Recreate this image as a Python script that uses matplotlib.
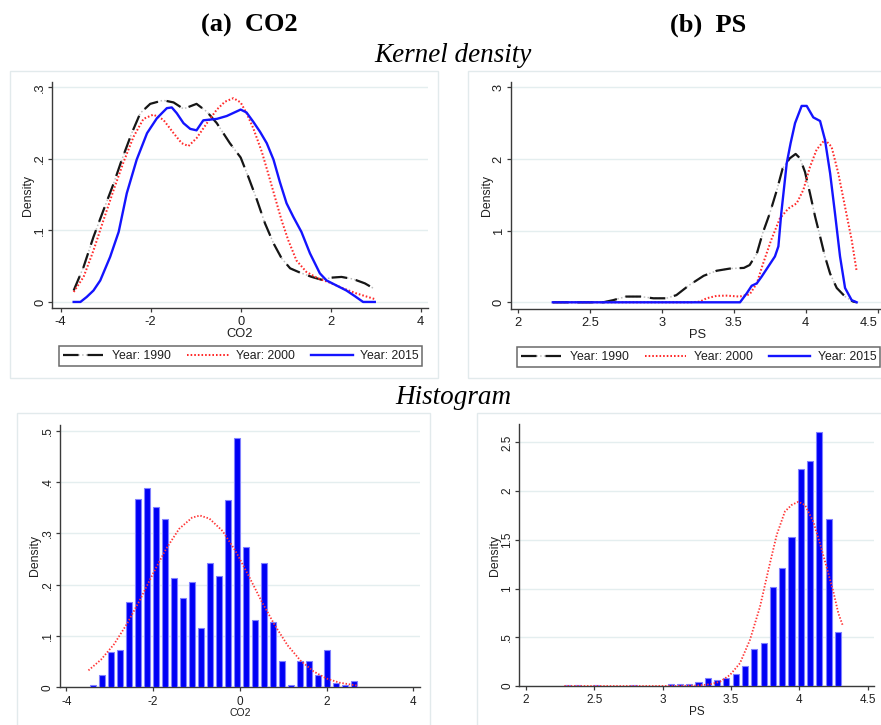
import matplotlib
matplotlib.use('Agg')
import matplotlib.pyplot as plt
from matplotlib.patches import Rectangle
from matplotlib.lines import Line2D
from matplotlib.legend_handler import HandlerTuple

# ---------------- data ----------------
years = ['Year: 1990', 'Year: 2000', 'Year: 2015']

co2_1990_x = [-3.71, -3.49, -3.27, -3.05, -2.82, -2.64, -2.42, -2.23, -2.01, -1.72, -1.49, -1.27, -0.98, -0.75,
              -0.53, -0.24, 0.0, 0.17, 0.36, 0.54, 0.73, 0.91, 1.10, 1.32, 1.58, 1.80, 2.02, 2.24, 2.50, 2.76, 2.98]
co2_1990_y = [0.016, 0.049, 0.091, 0.128, 0.166, 0.199, 0.236, 0.264, 0.277, 0.282, 0.279, 0.270, 0.277, 0.266,
              0.250, 0.222, 0.202, 0.175, 0.143, 0.110, 0.082, 0.061, 0.047, 0.041, 0.035, 0.031, 0.034, 0.035,
              0.032, 0.026, 0.018]

co2_2000_x = [-3.71, -3.49, -3.27, -3.05, -2.82, -2.60, -2.38, -2.16, -1.94, -1.72, -1.49, -1.31, -1.16, -0.98,
              -0.75, -0.53, -0.35, -0.16, 0.0, 0.13, 0.28, 0.47, 0.61, 0.76, 0.91, 1.06, 1.24, 1.46, 1.72, 1.98,
              2.28, 2.57, 2.98]
co2_2000_y = [0.014, 0.035, 0.072, 0.114, 0.157, 0.196, 0.231, 0.256, 0.262, 0.255, 0.236, 0.222, 0.218, 0.229,
              0.250, 0.269, 0.280, 0.285, 0.279, 0.264, 0.243, 0.210, 0.180, 0.147, 0.114, 0.086, 0.058, 0.042,
              0.033, 0.027, 0.019, 0.012, 0.004]

co2_2015_x = [-3.71, -3.56, -3.42, -3.27, -3.12, -2.90, -2.71, -2.53, -2.31, -2.08, -1.86, -1.64, -1.53, -1.42,
              -1.27, -1.12, -0.98, -0.83, -0.53, -0.31, 0.0, 0.13, 0.28, 0.43, 0.58, 0.73, 0.87, 1.02, 1.17,
              1.35, 1.54, 1.76, 1.91, 2.13, 2.35, 2.54, 2.72, 2.98]
co2_2015_y = [0.0, 0.0, 0.007, 0.016, 0.030, 0.063, 0.098, 0.152, 0.199, 0.236, 0.257, 0.271, 0.272, 0.264,
              0.250, 0.242, 0.240, 0.254, 0.256, 0.260, 0.269, 0.265, 0.252, 0.238, 0.222, 0.199, 0.168, 0.138,
              0.119, 0.098, 0.068, 0.040, 0.030, 0.023, 0.016, 0.008, 0.0, 0.0]

ps_1990_x = [2.24, 2.59, 2.66, 2.75, 2.85, 2.94, 3.03, 3.10, 3.19, 3.29, 3.38, 3.47, 3.57, 3.61, 3.66, 3.70,
             3.75, 3.80, 3.84, 3.89, 3.93, 3.96, 3.995, 4.03, 4.065, 4.10, 4.134, 4.17, 4.216, 4.274, 4.33, 4.355]
ps_1990_y = [0.0, 0.0, 0.03, 0.08, 0.08, 0.056, 0.056, 0.10, 0.24, 0.37, 0.44, 0.47, 0.48, 0.52, 0.68, 0.96,
             1.24, 1.57, 1.87, 2.01, 2.07, 2.01, 1.82, 1.52, 1.20, 0.92, 0.64, 0.40, 0.20, 0.08, 0.01, 0.0]

ps_2000_x = [2.24, 3.20, 3.265, 3.31, 3.38, 3.45, 3.54, 3.61, 3.66, 3.70, 3.76, 3.82, 3.88, 3.937, 3.984, 4.03,
             4.076, 4.134, 4.18, 4.227, 4.274, 4.32, 4.355]
ps_2000_y = [0.0, 0.0, 0.01, 0.056, 0.09, 0.093, 0.08, 0.11, 0.265, 0.52, 0.87, 1.17, 1.31, 1.38, 1.57, 1.89,
             2.13, 2.27, 2.17, 1.80, 1.33, 0.87, 0.43]

ps_2015_x = [2.24, 3.543, 3.59, 3.624, 3.66, 3.694, 3.74, 3.786, 3.81, 3.83, 3.868, 3.895, 3.926, 3.972, 4.007,
             4.053, 4.10, 4.134, 4.17, 4.204, 4.239, 4.274, 4.32, 4.355]
ps_2015_y = [0.0, 0.0, 0.126, 0.23, 0.265, 0.36, 0.50, 0.64, 0.78, 1.24, 1.94, 2.22, 2.50, 2.74, 2.74, 2.58,
             2.53, 2.27, 1.80, 1.24, 0.64, 0.20, 0.03, 0.0]

co2_bins = [-3.377, -3.170, -2.963, -2.756, -2.549, -2.342, -2.135, -1.928, -1.721, -1.514, -1.307, -1.100,
            -0.893, -0.686, -0.479, -0.272, -0.065, 0.142, 0.349, 0.556, 0.763, 0.970, 1.177, 1.384, 1.591,
            1.798, 2.005, 2.212, 2.419, 2.626]
co2_hist = [0.004, 0.024, 0.068, 0.072, 0.166, 0.368, 0.388, 0.352, 0.328, 0.214, 0.174, 0.206, 0.115, 0.242,
            0.218, 0.365, 0.487, 0.273, 0.131, 0.242, 0.127, 0.051, 0.004, 0.051, 0.051, 0.024, 0.072, 0.008,
            0.004, 0.012]
co2_norm_x = [-3.49, -3.2, -2.9, -2.6, -2.3, -2.0, -1.7, -1.4, -1.1, -0.92, -0.7, -0.4, -0.1, 0.2, 0.5, 0.8,
              1.1, 1.4, 1.7, 2.0, 2.3, 2.73]
co2_norm_y = [0.033, 0.054, 0.084, 0.124, 0.171, 0.222, 0.270, 0.309, 0.331, 0.335, 0.329, 0.305, 0.266, 0.218,
              0.168, 0.122, 0.082, 0.052, 0.031, 0.017, 0.009, 0.003]

ps_bins = [2.310, 2.378, 2.514, 2.786, 3.058, 3.126, 3.194, 3.262, 3.330, 3.398, 3.466, 3.534, 3.602, 3.670,
           3.738, 3.806, 3.874, 3.942, 4.010, 4.078, 4.146, 4.214, 4.282]
ps_hist = [0.01, 0.01, 0.01, 0.01, 0.02, 0.02, 0.02, 0.045, 0.085, 0.062, 0.085, 0.12, 0.205, 0.376, 0.438,
           1.012, 1.207, 1.525, 2.23, 2.305, 2.61, 1.71, 0.551]
ps_norm_x = [2.28, 2.6, 2.9, 3.1, 3.25, 3.35, 3.419, 3.492, 3.565, 3.638, 3.712, 3.773, 3.834, 3.894, 3.943,
             3.992, 4.041, 4.102, 4.151, 4.199, 4.248, 4.285, 4.316]
ps_norm_y = [0.0, 0.0, 0.0, 0.0005, 0.004, 0.018, 0.044, 0.113, 0.233, 0.472, 0.814, 1.19, 1.55, 1.79, 1.857,
             1.89, 1.857, 1.686, 1.46, 1.22, 0.97, 0.746, 0.626]

co2_xticks = [-4, -2, 0, 2, 4]
co2_xticklabels = ['-4', '-2', '0', '2', '4']
ps_xticks = [2, 2.5, 3, 3.5, 4, 4.5]
ps_xticklabels = ['2', '2.5', '3', '3.5', '4', '4.5']
kd_co2_yticks = [0, 0.1, 0.2, 0.3]
kd_co2_yticklabels = ['0', '.1', '.2', '.3']
kd_ps_yticks = [0, 1, 2, 3]
kd_ps_yticklabels = ['0', '1', '2', '3']
h_co2_yticks = [0, 0.1, 0.2, 0.3, 0.4, 0.5]
h_co2_yticklabels = ['0', '.1', '.2', '.3', '.4', '.5']
h_ps_yticks = [0, 0.5, 1, 1.5, 2, 2.5]
h_ps_yticklabels = ['0', '.5', '1', '1.5', '2', '2.5']

# ---------------- figure ----------------
W, H = 881, 725
plt.rcParams['font.family'] = ['Liberation Sans', 'DejaVu Sans']
fig = plt.figure(figsize=(W / 100, H / 100), dpi=100)
fig.patch.set_facecolor('white')


def fx(px):
    return px / W


def fy(py):
    return 1 - py / H


def axes_px(left, top, right, bottom):
    return fig.add_axes([fx(left), fy(bottom), fx(right) - fx(left), fy(top) - fy(bottom)])


# graph-region frames
for (l, t, r, b) in [(10, 71, 438, 378), (468, 71, 900, 378), (17, 413, 430, 740), (477, 413, 900, 740)]:
    fig.add_artist(Rectangle((fx(l), fy(b)), fx(r) - fx(l), fy(t) - fy(b), transform=fig.transFigure,
                             fill=False, ec='#e2eaec', lw=1.0))

SERIF = ['Liberation Serif', 'DejaVu Serif']
fig.text(fx(249), fy(25), '(a)  CO2', ha='center', va='center', fontsize=19, fontweight='bold', family=SERIF)
fig.text(fx(708), fy(25), '(b)  PS', ha='center', va='center', fontsize=19, fontweight='bold', family=SERIF)
fig.text(fx(453), fy(56), 'Kernel density', ha='center', va='center', fontsize=19.5, style='italic', family=SERIF)
fig.text(fx(453), fy(398), 'Histogram', ha='center', va='center', fontsize=19.5, style='italic', family=SERIF)

AX = '#3a3a3a'
TXT = '#1e1e1e'


def style(ax, xt, xtl, yt, ytl, fs, xpad, ypad):
    for s in ['top', 'right']:
        ax.spines[s].set_visible(False)
    for s in ['left', 'bottom']:
        ax.spines[s].set_color(AX)
        ax.spines[s].set_linewidth(1.0)
    ax.set_xticks(xt)
    ax.set_xticklabels(xtl)
    ax.set_yticks(yt)
    ax.set_yticklabels(ytl, rotation=90, va='center')
    ax.tick_params(direction='out', length=3, width=0.9, color=AX, labelsize=fs, labelcolor=TXT)
    ax.tick_params(axis='x', pad=xpad)
    ax.tick_params(axis='y', pad=ypad)
    ax.yaxis.grid(True, color='#e4eeef', lw=1.0)
    ax.set_axisbelow(True)
    ax.set_facecolor('none')


def lab(x, y, s, fs, rot=0):
    fig.text(fx(x), fy(y), s, ha='center', va='center', fontsize=fs, rotation=rot, color=TXT)


BLACK = '#161616'
GREY = '#bdbdbd'
RED = '#ff2a2a'
BLUE = '#1414ff'
DASH90 = (0, (7, 4))
DOT = (0, (0.8, 1.0))


def kd_lines(ax, xs, ys):
    ax.plot(xs[0], ys[0], color=GREY, lw=1.1, ls=(0, (1, 1.5)), zorder=3)
    ax.plot(xs[0], ys[0], color=BLACK, lw=1.6, ls=DASH90, zorder=4)
    ax.plot(xs[1], ys[1], color=RED, lw=1.45, ls=DOT, zorder=4)
    ax.plot(xs[2], ys[2], color=BLUE, lw=1.7, zorder=5)


def kd_legend(ax, l, t, r, b):
    h1 = (Line2D([], [], color=GREY, lw=1.1, ls=(0, (1, 1.5))), Line2D([], [], color=BLACK, lw=1.6, ls=DASH90))
    h2 = Line2D([], [], color=RED, lw=1.45, ls=DOT)
    h3 = Line2D([], [], color=BLUE, lw=1.7)
    leg = ax.legend([h1, h2, h3], years, handler_map={tuple: HandlerTuple(ndivide=1)}, ncol=3, mode='expand',
                    loc='center', bbox_to_anchor=(fx(l), fy(b), fx(r) - fx(l), fy(t) - fy(b)),
                    bbox_transform=fig.transFigure, fontsize=8.8, frameon=True, fancybox=False,
                    edgecolor='#6a6a6a', framealpha=1, borderpad=0.3, handlelength=3.4, handletextpad=0.6,
                    columnspacing=1.0, borderaxespad=0)
    leg.get_frame().set_linewidth(1.1)
    for t_ in leg.get_texts():
        t_.set_color(TXT)


# ---- top-left: kernel density CO2
ax1 = axes_px(52.3, 81.7, 427.7, 308.3)
kd_lines(ax1, [co2_1990_x, co2_2000_x, co2_2015_x], [co2_1990_y, co2_2000_y, co2_2015_y])
ax1.set_xlim(-4.185, 4.156)
ax1.set_ylim(-0.00888, 0.308)
style(ax1, co2_xticks, co2_xticklabels, kd_co2_yticks, kd_co2_yticklabels, 9.3, 2.5, 1.5)
kd_legend(ax1, 59.3, 345.3, 422.3, 366.7)
lab(28, 195, 'Density', 8.8, 90)
lab(240, 334, 'CO2', 9.3)

# ---- top-right: kernel density PS
ax2 = axes_px(511, 81.7, 885, 309)
kd_lines(ax2, [ps_1990_x, ps_2000_x, ps_2015_x], [ps_1990_y, ps_2000_y, ps_2015_y])
ax2.set_xlim(1.949, 4.552)
ax2.set_ylim(-0.0935, 3.078)
style(ax2, ps_xticks, ps_xticklabels, kd_ps_yticks, kd_ps_yticklabels, 9.3, 2.5, 1.5)
ax2.get_xticklabels()[-1].set_ha('right')   # keep the last label inside the canvas
kd_legend(ax2, 517, 346, 880, 368)
lab(486.7, 195, 'Density', 8.8, 90)
lab(697.7, 335, 'PS', 9.3)

# ---- bottom-left: histogram CO2
BARC = '#0000f5'
BARE = '#8080ff'
ax3 = axes_px(60, 425, 420, 687.3)
ax3.bar(co2_bins, co2_hist, width=0.207 * 0.65, color=BARC, edgecolor=BARE, lw=0.8, zorder=3)
ax3.plot(co2_norm_x, co2_norm_y, color='#ff3535', lw=1.3, ls=DOT, zorder=4)
ax3.set_xlim(-4.146, 4.154)
ax3.set_ylim(0, 0.5116)
style(ax3, co2_xticks, co2_xticklabels, h_co2_yticks, h_co2_yticklabels, 8.5, 3.0, 1.5)
lab(35, 555, 'Density', 8.8, 90)
lab(240, 712.7, 'CO2', 7.5)

# ---- bottom-right: histogram PS
ax4 = axes_px(519.3, 424, 874.3, 686)
ax4.bar(ps_bins, ps_hist, width=0.068 * 0.66, color=BARC, edgecolor=BARE, lw=0.8, zorder=3)
ax4.plot(ps_norm_x, ps_norm_y, color='#ff3535', lw=1.3, ls=DOT, zorder=4)
ax4.set_xlim(1.951, 4.548)
ax4.set_ylim(0, 2.688)
style(ax4, ps_xticks, ps_xticklabels, h_ps_yticks, h_ps_yticklabels, 8.5, 3.0, 1.5)
lab(495, 555, 'Density', 8.8, 90)
lab(696.7, 711.7, 'PS', 8.5)

fig.savefig('out.png', dpi=100)
